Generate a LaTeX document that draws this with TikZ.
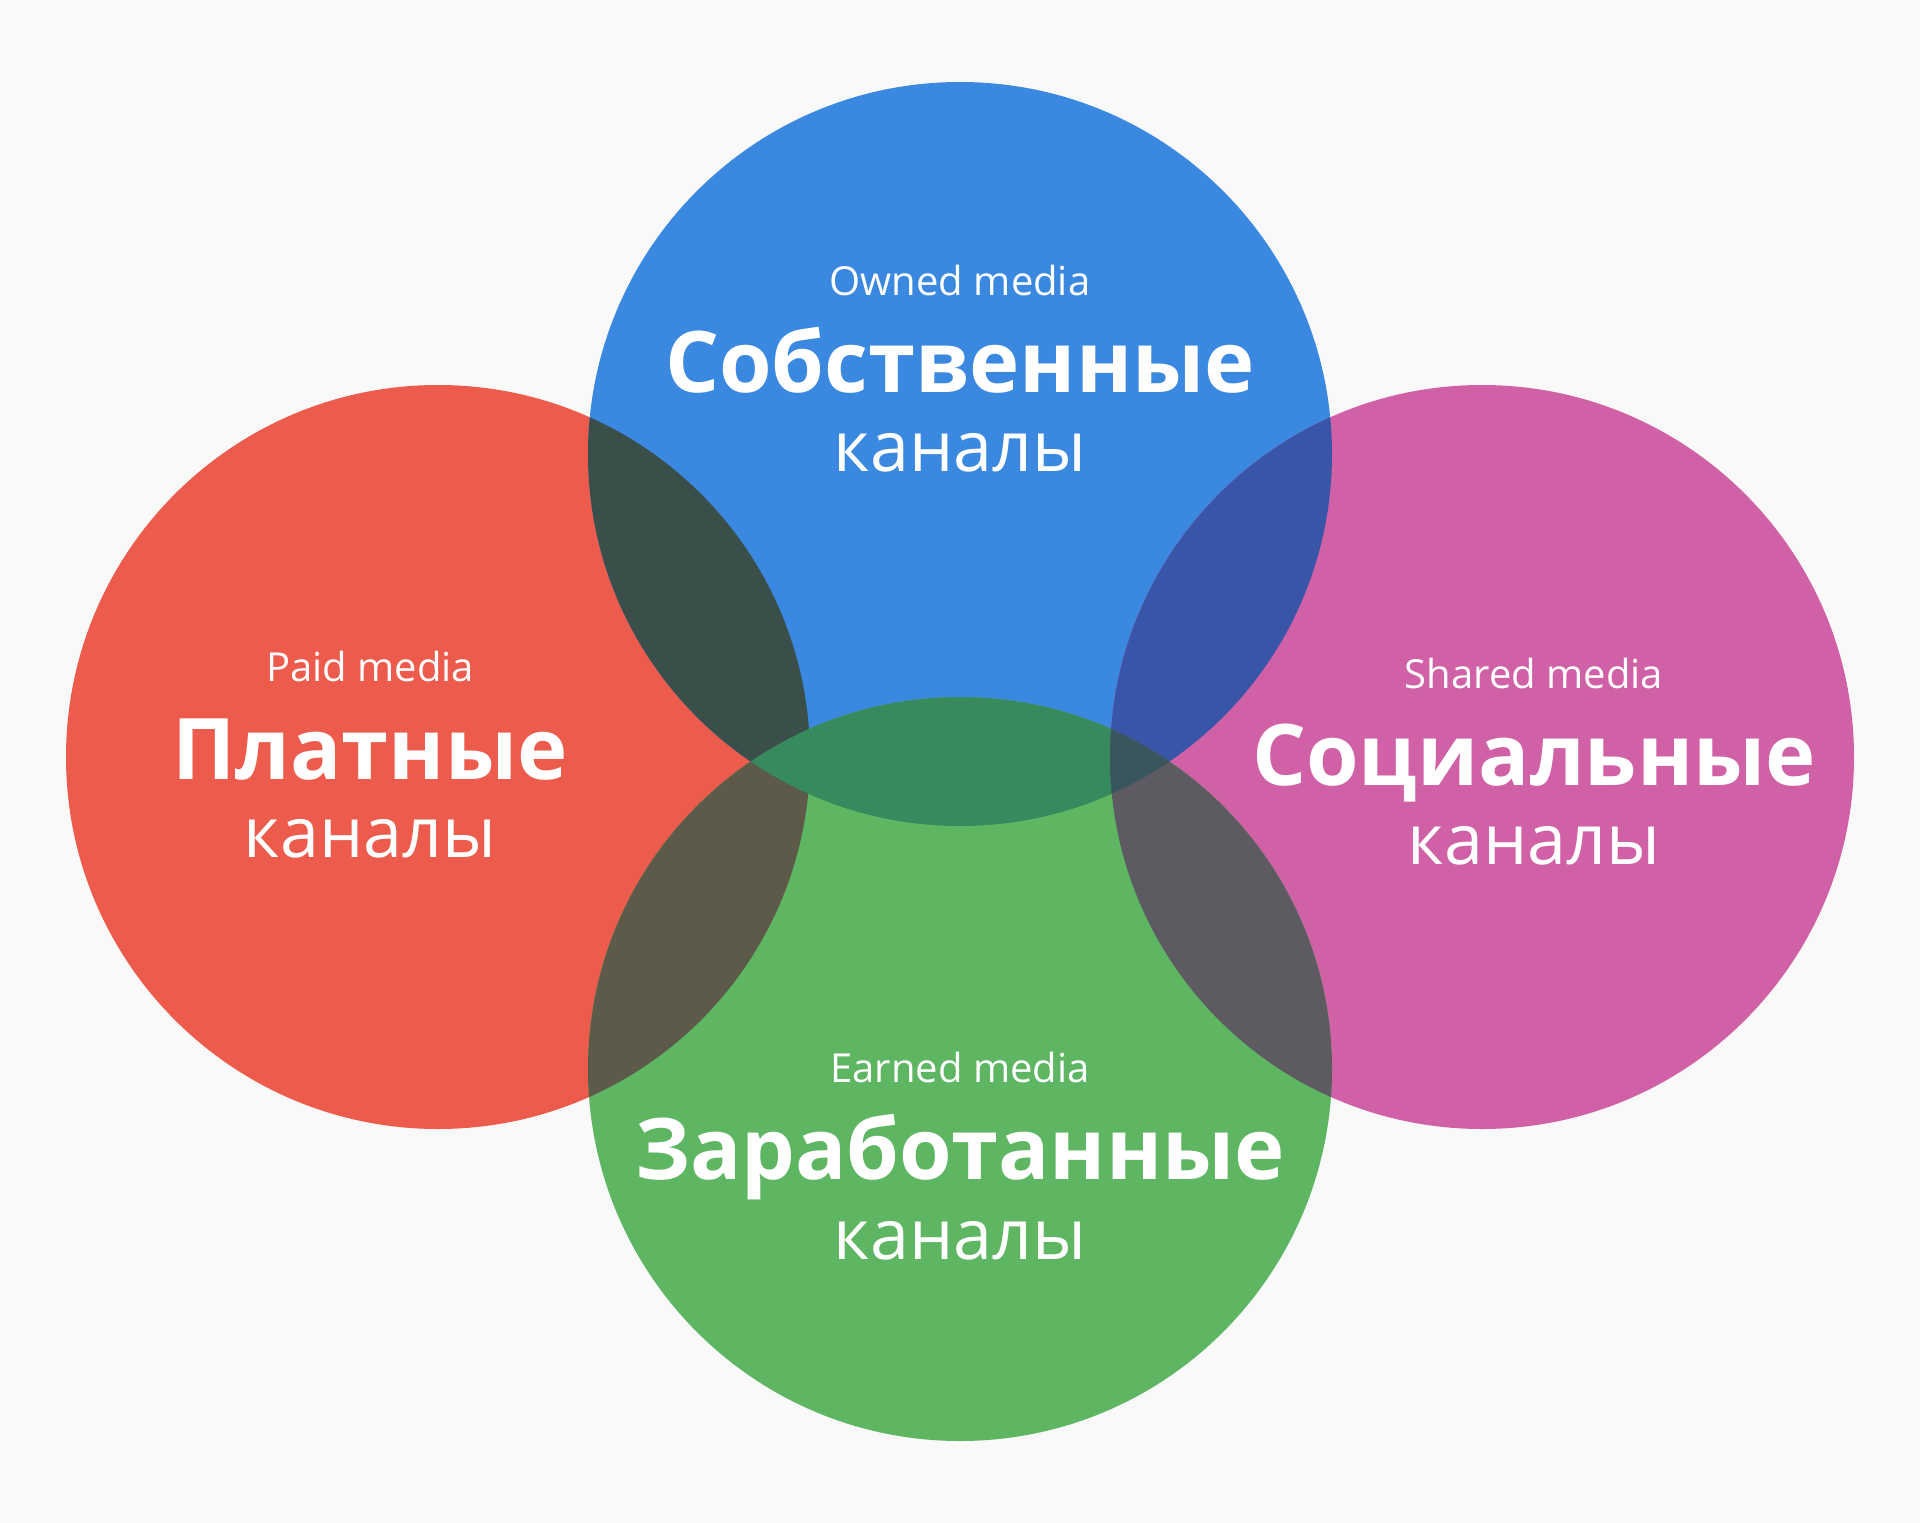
\documentclass[tikz,border=0pt]{standalone}
\usepackage{fontspec}
\setmainfont{Open Sans}
\definecolor{bggray}{HTML}{F9F9F9}
\definecolor{paidred}{HTML}{EC5B4B}
\definecolor{ownedblue}{HTML}{3A88DF}
\definecolor{sharedpink}{HTML}{D161A6}
\definecolor{earnedgreen}{HTML}{5EB663}
\definecolor{paidowned}{HTML}{3B4F4A}
\definecolor{paidearned}{HTML}{5D5A4A}
\definecolor{ownedearned}{HTML}{378A5D}
\definecolor{ownedshared}{HTML}{3955A7}
\definecolor{sharedearned}{HTML}{5D5A62}
\definecolor{ownedsharedearned}{HTML}{39565F}
\tikzset{
  disc/.style={radius=372pt},
  mediatext/.style={text=white, anchor=base, inner sep=0pt, font=\fontsize{40}{48}\selectfont},
  titletext/.style={text=white, anchor=base, inner sep=0pt, font=\fontsize{85}{100}\selectfont\bfseries},
  subtext/.style={text=white, anchor=base, inner sep=0pt, font=\fontsize{70}{84}\selectfont}
}
\begin{document}
\begin{tikzpicture}[x=1pt,y=-1pt]
\fill[bggray] (0,0) rectangle (1920,1523);

\coordinate (paid) at (438,757);
\coordinate (owned) at (960,454);
\coordinate (shared) at (1482,757);
\coordinate (earned) at (960,1069);

\fill[paidred] (paid) circle[disc];
\fill[ownedblue] (owned) circle[disc];
\fill[sharedpink] (shared) circle[disc];
\fill[earnedgreen] (earned) circle[disc];

% overlaps
\begin{scope}
\clip (paid) circle[disc];
\fill[paidearned] (earned) circle[disc];
\fill[paidowned] (owned) circle[disc];
\end{scope}
\begin{scope}
\clip (owned) circle[disc];
\fill[ownedearned] (earned) circle[disc];
\fill[ownedshared] (shared) circle[disc];
\end{scope}
\begin{scope}
\clip (shared) circle[disc];
\fill[sharedearned] (earned) circle[disc];
\end{scope}
\begin{scope}
\clip (shared) circle[disc];
\clip (owned) circle[disc];
\fill[ownedsharedearned] (earned) circle[disc];
\end{scope}

\node[mediatext] (paid-en) at (370,681) {Paid media};
\node[titletext] (paid-ru) at (370,779) {Платные};
\node[subtext] (paid-sub) at (370,857) {каналы};

\node[mediatext] (owned-en) at (960,295) {Owned media};
\node[titletext] (owned-ru) at (960,392) {Собственные};
\node[subtext] (owned-sub) at (960,471) {каналы};

\node[mediatext] (shared-en) at (1534,688) {Shared media};
\node[titletext] (shared-ru) at (1534,785) {Социальные};
\node[subtext] (shared-sub) at (1534,864) {каналы};

\node[mediatext] (earned-en) at (960,1082) {Earned media};
\node[titletext] (earned-ru) at (960,1179) {Заработанные};
\node[subtext] (earned-sub) at (960,1259) {каналы};
\end{tikzpicture}
\end{document}
